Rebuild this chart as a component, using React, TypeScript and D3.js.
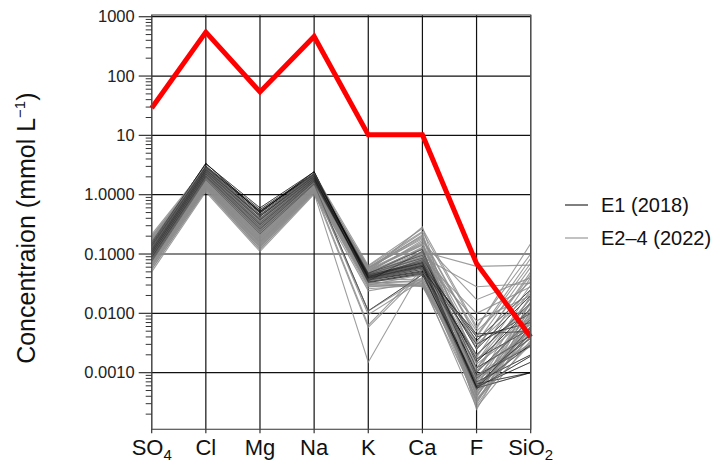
import React from "react";
import * as d3 from "d3";

// ions along the x axis
const categories = ["SO4", "Cl", "Mg", "Na", "K", "Ca", "F", "SiO2"];

// seawater reference (red)
const seawater = [29, 550, 54, 465, 10.2, 10.2, 0.069, 0.004];

// E1 (2018) samples, mmol/L, same order as categories
const e1Samples = [
  [0.080, 1.90, 0.24, 1.55, 0.040, 0.060, 0.00055, 0.0010],
  [0.085, 2.00, 0.26, 1.65, 0.042, 0.065, 0.00055, 0.0019],
  [0.090, 2.10, 0.29, 1.72, 0.038, 0.055, 0.00058, 0.0030],
  [0.095, 2.20, 0.31, 1.78, 0.045, 0.070, 0.00060, 0.0045],
  [0.100, 2.30, 0.34, 1.84, 0.036, 0.050, 0.00052, 0.0060],
  [0.105, 2.40, 0.37, 1.90, 0.044, 0.075, 0.00100, 0.0080],
  [0.110, 2.50, 0.40, 1.96, 0.040, 0.080, 0.00150, 0.0120],
  [0.115, 2.60, 0.43, 2.02, 0.034, 0.048, 0.00200, 0.0150],
  [0.122, 2.70, 0.46, 2.08, 0.046, 0.085, 0.00250, 0.0200],
  [0.128, 2.80, 0.49, 2.14, 0.039, 0.058, 0.00300, 0.0100],
  [0.135, 2.90, 0.52, 2.20, 0.043, 0.068, 0.00350, 0.0250],
  [0.145, 3.05, 0.56, 2.28, 0.041, 0.062, 0.00400, 0.0070],
  [0.160, 3.30, 0.60, 2.42, 0.037, 0.052, 0.00450, 0.0050],
  [0.075, 1.80, 0.22, 1.50, 0.011, 0.045, 0.00070, 0.0020],
  [0.088, 2.05, 0.27, 1.68, 0.035, 0.110, 0.00080, 0.0038],
  [0.098, 2.25, 0.32, 1.80, 0.047, 0.120, 0.00090, 0.0028],
  [0.108, 2.45, 0.38, 1.92, 0.033, 0.046, 0.00065, 0.0010],
  [0.118, 2.65, 0.44, 2.05, 0.048, 0.095, 0.00120, 0.0042],
  [0.138, 2.95, 0.53, 2.22, 0.042, 0.072, 0.00058, 0.0015],
  [0.150, 3.40, 0.50, 2.45, 0.039, 0.064, 0.00170, 0.0055],
];

// E2-4 (2022) samples
const e2Samples = [
  [0.050, 1.12, 0.110, 1.02, 0.024, 0.034, 0.00026, 0.0035],
  [0.055, 1.20, 0.120, 1.08, 0.030, 0.045, 0.00032, 0.0050],
  [0.060, 1.28, 0.130, 1.14, 0.035, 0.060, 0.00040, 0.0080],
  [0.066, 1.34, 0.138, 1.18, 0.026, 0.030, 0.00036, 0.0042],
  [0.071, 1.42, 0.150, 1.24, 0.040, 0.080, 0.00050, 0.0120],
  [0.075, 1.48, 0.160, 1.28, 0.045, 0.100, 0.00060, 0.0150],
  [0.080, 1.55, 0.170, 1.34, 0.032, 0.036, 0.00045, 0.0060],
  [0.086, 1.62, 0.180, 1.40, 0.050, 0.120, 0.00070, 0.0200],
  [0.092, 1.68, 0.192, 1.46, 0.038, 0.070, 0.00080, 0.0100],
  [0.098, 1.75, 0.205, 1.52, 0.055, 0.150, 0.00100, 0.0250],
  [0.104, 1.82, 0.218, 1.58, 0.042, 0.090, 0.00120, 0.0180],
  [0.110, 1.88, 0.230, 1.63, 0.028, 0.032, 0.00055, 0.0045],
  [0.118, 1.96, 0.245, 1.70, 0.060, 0.200, 0.00150, 0.0300],
  [0.126, 2.05, 0.260, 1.76, 0.048, 0.110, 0.00180, 0.0400],
  [0.135, 2.14, 0.278, 1.83, 0.036, 0.065, 0.00200, 0.0140],
  [0.145, 2.24, 0.295, 1.90, 0.052, 0.140, 0.00250, 0.0500],
  [0.156, 2.35, 0.315, 1.97, 0.044, 0.095, 0.00300, 0.0220],
  [0.170, 2.48, 0.340, 2.05, 0.058, 0.180, 0.00400, 0.0700],
  [0.188, 2.65, 0.370, 2.14, 0.046, 0.130, 0.00500, 0.0350],
  [0.215, 2.95, 0.440, 2.28, 0.064, 0.270, 0.00600, 0.1000],
  [0.056, 1.18, 0.118, 1.06, 0.0015, 0.058, 0.00035, 0.0030],
  [0.062, 1.26, 0.128, 1.12, 0.0058, 0.048, 0.00042, 0.0040],
  [0.072, 1.40, 0.148, 1.22, 0.0063, 0.055, 0.00048, 0.0055],
  [0.079, 1.50, 0.165, 1.30, 0.0110, 0.040, 0.00065, 0.0070],
  [0.090, 1.64, 0.185, 1.42, 0.0095, 0.036, 0.00052, 0.0060],
  [0.120, 1.98, 0.250, 1.72, 0.040, 0.110, 0.0620, 0.0650],
  [0.130, 2.10, 0.270, 1.80, 0.045, 0.090, 0.0280, 0.0320],
  [0.100, 1.78, 0.210, 1.55, 0.050, 0.160, 0.0170, 0.0400],
  [0.140, 2.20, 0.288, 1.87, 0.042, 0.085, 0.0100, 0.0280],
  [0.112, 1.92, 0.236, 1.66, 0.038, 0.075, 0.0075, 0.0200],
  [0.150, 2.28, 0.305, 1.93, 0.055, 0.210, 0.00024, 0.0090],
  [0.165, 2.42, 0.330, 2.02, 0.048, 0.170, 0.00030, 0.0110],
  [0.180, 2.58, 0.355, 2.10, 0.058, 0.230, 0.00038, 0.0130],
  [0.200, 2.80, 0.400, 2.22, 0.050, 0.285, 0.00045, 0.0160],
  [0.083, 1.58, 0.175, 1.37, 0.034, 0.028, 0.00090, 0.0038],
  [0.095, 1.70, 0.198, 1.49, 0.030, 0.030, 0.00110, 0.0048],
  [0.107, 1.80, 0.222, 1.60, 0.033, 0.034, 0.00140, 0.0065],
  [0.115, 1.90, 0.240, 1.68, 0.036, 0.038, 0.00170, 0.0085],
  [0.064, 1.32, 0.135, 1.16, 0.047, 0.125, 0.00260, 0.0450],
  [0.074, 1.45, 0.155, 1.26, 0.053, 0.145, 0.00320, 0.0600],
  [0.088, 1.60, 0.182, 1.38, 0.057, 0.190, 0.00420, 0.0850],
  [0.097, 1.72, 0.202, 1.50, 0.062, 0.240, 0.00550, 0.1500],
  [0.122, 2.00, 0.255, 1.74, 0.043, 0.105, 0.00065, 0.0028],
  [0.132, 2.12, 0.272, 1.81, 0.039, 0.082, 0.00075, 0.0032],
  [0.142, 2.22, 0.290, 1.88, 0.037, 0.068, 0.00085, 0.0030],
  [0.160, 2.38, 0.322, 1.99, 0.041, 0.078, 0.00028, 0.0058],
  [0.176, 2.52, 0.348, 2.08, 0.045, 0.088, 0.00033, 0.0075],
  [0.195, 2.72, 0.385, 2.18, 0.049, 0.098, 0.00040, 0.0095],
  [0.068, 1.36, 0.142, 1.20, 0.029, 0.029, 0.00120, 0.0120],
  [0.077, 1.46, 0.158, 1.28, 0.031, 0.031, 0.00150, 0.0180],
];

const majorTicks = [1000, 100, 10, 1, 0.1, 0.01, 0.001];
const tickLabels = ["1000", "100", "10", "1.0000", "0.1000", "0.0100", "0.0010"];

const FONT = "'Liberation Sans', Arial, sans-serif";

export default function App() {
  const left = 151.7, right = 530.7, top = 15, bottom = 429.3;

  const x = d3.scalePoint<string>().domain(categories).range([left, right]).padding(0);
  const y = d3.scaleLog().domain([1.11e-4, 1069]).range([bottom, top]);

  const line = d3
    .line<number>()
    .x((_, i) => x(categories[i]) as number)
    .y((d) => y(d));

  // minor ticks 2..9 within the domain
  const minor: number[] = [];
  for (let e = -4; e <= 2; e++) {
    for (let m = 2; m <= 9; m++) {
      const v = m * Math.pow(10, e);
      if (v >= y.domain()[0] && v <= y.domain()[1]) minor.push(v);
    }
  }

  const renderLabel = (c: string) => {
    const m = c.match(/^([A-Za-z]+)(\d)$/);
    if (!m) return c;
    return (
      <>
        {m[1]}
        <tspan fontSize={15} dy={5}>{m[2]}</tspan>
      </>
    );
  };

  return (
    <svg
      width={717}
      height={464}
      style={{ position: "absolute", left: 0, top: 0, background: "#fff" }}
      fontFamily={FONT}
    >
      {/* grid */}
      {majorTicks.map((t) => (
        <line key={"h" + t} x1={left} x2={right} y1={y(t)} y2={y(t)} stroke="#111" strokeWidth={1.2} />
      ))}
      {categories.map((c) => (
        <line key={"v" + c} x1={x(c)} x2={x(c)} y1={top} y2={bottom} stroke="#111" strokeWidth={1.2} />
      ))}

      {/* E1 samples */}
      <g fill="none" stroke="#000" strokeWidth={0.6}>
        {e1Samples.map((s, i) => (
          <path key={"b" + i} d={line(s) as string} />
        ))}
      </g>
      {/* E2-4 samples */}
      <g fill="none" stroke="#8c8c8c" strokeWidth={1.1} strokeOpacity={0.85}>
        {e2Samples.map((s, i) => (
          <path key={"g" + i} d={line(s) as string} />
        ))}
      </g>
      {/* E1 samples drawn again lightly on top so they show through */}
      <g fill="none" stroke="#000" strokeWidth={0.5} strokeOpacity={0.6}>
        {e1Samples.map((s, i) => (
          <path key={"bt" + i} d={line(s) as string} />
        ))}
      </g>
      {/* seawater */}
      <path d={line(seawater) as string} fill="none" stroke="#ff0000" strokeWidth={5} strokeLinejoin="miter" />

      {/* frame */}
      <rect x={left} y={top} width={right - left} height={bottom - top} fill="none" stroke="#555" strokeWidth={1.2} />

      {/* y axis ticks */}
      {majorTicks.map((t, i) => (
        <g key={"yt" + t}>
          <line x1={left - 13} x2={left} y1={y(t)} y2={y(t)} stroke="#333" strokeWidth={1.2} />
          <text x={left - 17} y={y(t)} dy="0.35em" textAnchor="end" fontSize={16.5} fill="#222">
            {tickLabels[i]}
          </text>
        </g>
      ))}
      {minor.map((v) => (
        <line key={"m" + v} x1={left - 6} x2={left} y1={y(v)} y2={y(v)} stroke="#333" strokeWidth={1} />
      ))}

      {/* x axis ticks & labels */}
      {categories.map((c) => (
        <g key={"xt" + c}>
          <line x1={x(c)} x2={x(c)} y1={bottom} y2={bottom + 4} stroke="#333" strokeWidth={1.2} />
          <text x={x(c)} y={455} textAnchor="middle" fontSize={22} fill="#111">
            {renderLabel(c)}
          </text>
        </g>
      ))}

      {/* y title */}
      <text transform={`translate(35,${(top + bottom) / 2 + 6}) rotate(-90)`} textAnchor="middle" fontSize={25} fill="#111">
        Concentraion (mmol L<tspan fontSize={15} dy={-10}>−1</tspan>
        <tspan dy={10}>)</tspan>
      </text>

      {/* legend */}
      <line x1={565} x2={588} y1={205} y2={205} stroke="#000" strokeWidth={1} />
      <text x={601} y={205} dy="0.35em" fontSize={20} fill="#111">E1 (2018)</text>
      <line x1={565} x2={588} y1={238} y2={238} stroke="#999" strokeWidth={1.2} />
      <text x={601} y={238} dy="0.35em" fontSize={20} fill="#111">E2–4 (2022)</text>
    </svg>
  );
}
